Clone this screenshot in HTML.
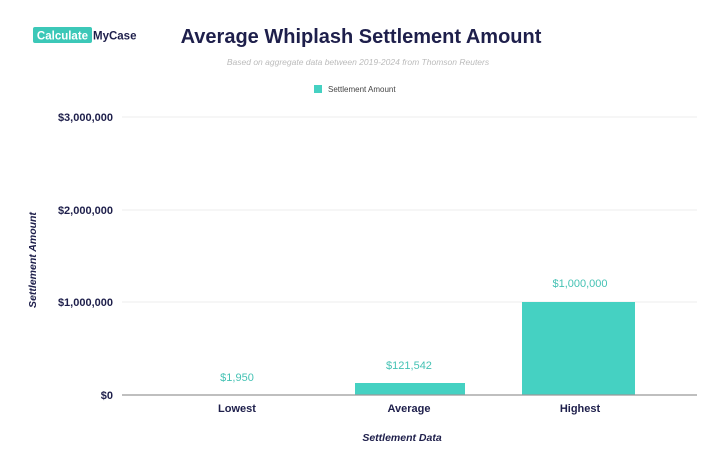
<!DOCTYPE html>
<html><head><meta charset="utf-8"><style>
html,body{margin:0;padding:0;background:#fff;width:720px;height:465px;overflow:hidden}
</style></head><body>
<svg width="720" height="465" xmlns="http://www.w3.org/2000/svg" font-family="Liberation Sans, sans-serif">
<rect x="33" y="27" width="59" height="16" rx="2" fill="#3cc8b8"/>
<text x="62.5" y="39.5" font-size="11.5" font-weight="bold" fill="#fff" text-anchor="middle">Calculate</text>
<text x="93" y="39.5" font-size="11.5" font-weight="bold" fill="#1e1f4b">MyCase</text>
<text x="361" y="43" font-size="20" font-weight="bold" fill="#1e1f4b" text-anchor="middle">Average Whiplash Settlement Amount</text>
<text x="358" y="65" font-size="8.5" font-style="italic" fill="#bbb" text-anchor="middle">Based on aggregate data between 2019-2024 from Thomson Reuters</text>
<rect x="314" y="85" width="8" height="8" fill="#45d1c2"/>
<text x="328" y="92" font-size="8" fill="#444">Settlement Amount</text>
<g stroke="#ececec" stroke-width="1">
<line x1="122" y1="117" x2="697" y2="117"/>
<line x1="122" y1="210" x2="697" y2="210"/>
<line x1="122" y1="302" x2="697" y2="302"/>
</g>
<g font-size="11" font-weight="bold" fill="#1e1f4b" text-anchor="end">
<text x="113" y="121">$3,000,000</text>
<text x="113" y="214">$2,000,000</text>
<text x="113" y="306">$1,000,000</text>
<text x="113" y="399">$0</text>
</g>
<rect x="355" y="383" width="110" height="12" fill="#45d1c2"/>
<rect x="522" y="302" width="113" height="93" fill="#45d1c2"/>
<line x1="122" y1="395" x2="697" y2="395" stroke="#999" stroke-width="1.2"/>
<g font-size="11" fill="#45c2b4" text-anchor="middle">
<text x="237" y="381">$1,950</text>
<text x="409" y="369">$121,542</text>
<text x="580" y="287">$1,000,000</text>
</g>
<g font-size="11" font-weight="bold" fill="#1e1f4b" text-anchor="middle">
<text x="237" y="412">Lowest</text>
<text x="409" y="412">Average</text>
<text x="580" y="412">Highest</text>
</g>
<text x="402" y="441" font-size="10.5" font-weight="bold" font-style="italic" fill="#1e1f4b" text-anchor="middle">Settlement Data</text>
<text transform="translate(36,260) rotate(-90)" font-size="10.5" font-weight="bold" font-style="italic" fill="#1e1f4b" text-anchor="middle">Settlement Amount</text>
</svg>
</body></html>
